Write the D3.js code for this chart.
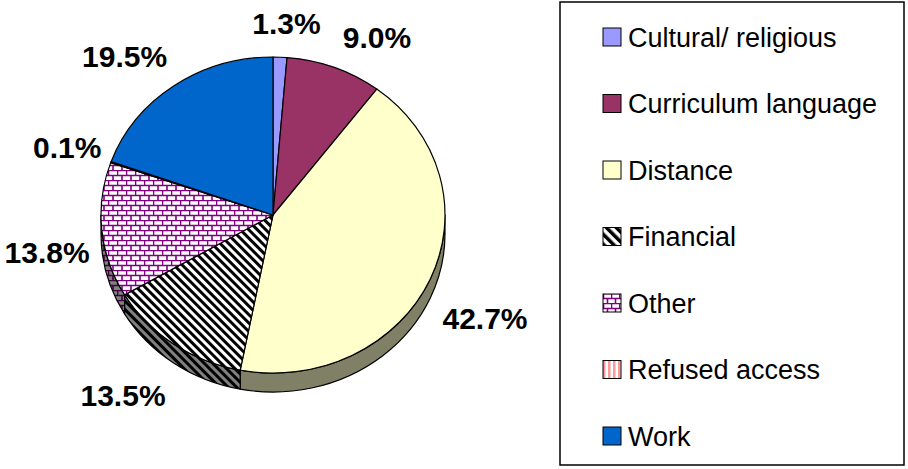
<!DOCTYPE html>
<meta charset="utf-8">
<style>
body { margin: 0; background: #fff; }
text { font-family: "Liberation Sans", Arial, sans-serif; }
.pct { font-weight: bold; font-size: 30px; }
.leg { font-size: 27px; }
</style>
<svg width="908" height="469"></svg>
<script src="https://cdn.jsdelivr.net/npm/d3@7"></script>
<script>

var categories = ["Cultural/ religious", "Curriculum language", "Distance", "Financial", "Other", "Refused access", "Work"];
var shares = [1.3, 9.0, 42.7, 13.5, 13.8, 0.1, 19.5];

// label nudges (layout only) relative to the angle-based spot
var labelNudge = [[4, 8], [22, 9], [2, 2], [-17, -2], [3, -1], [11, -1], [-16, 5]];

var svg = d3.select("svg");
var cx = 273, cy = 215, rx = 172, ry = 158, depth = 19;

/* patterns */
var defs = svg.append("defs");

function stripes(id, bg, fg, w) {
  var p = defs.append("pattern").attr("id", id).attr("patternUnits", "userSpaceOnUse")
    .attr("width", w).attr("height", w).attr("patternTransform", "rotate(-45)");
  p.append("rect").attr("width", w).attr("height", w).attr("fill", bg);
  p.append("rect").attr("width", w / 2).attr("height", w).attr("fill", fg);
}
stripes("fin", "#fff", "#000", 6);
stripes("finDark", "#808080", "#000", 6);
stripes("finLeg", "#fff", "#000", 7);

function brick(id, bg, fg, w, h, sw) {
  var p = defs.append("pattern").attr("id", id).attr("patternUnits", "userSpaceOnUse")
    .attr("width", w).attr("height", h * 2);
  p.append("rect").attr("width", w).attr("height", h * 2).attr("fill", bg);
  p.append("path")
    .attr("d", "M0,0.5H" + w + "M0," + (h + 0.5) + "H" + w +
      "M0.5,0V" + (h + 0.5) + "M" + (w / 2 + 0.5) + "," + (h + 0.5) + "V" + (h * 2))
    .attr("stroke", fg).attr("stroke-width", sw).attr("fill", "none");
}
brick("brick", "#fff", "#800080", 9, 5, 1.6);
brick("brickDark", "#808080", "#400040", 9, 5, 1.6);
brick("brickLeg", "#fff", "#800080", 8, 5, 1.6);

function vstripes(id, bg, fg) {
  var p = defs.append("pattern").attr("id", id).attr("patternUnits", "userSpaceOnUse")
    .attr("width", 5).attr("height", 5);
  p.append("rect").attr("width", 5).attr("height", 5).attr("fill", bg);
  p.append("rect").attr("width", 2.5).attr("height", 5).attr("fill", fg);
}
vstripes("refused", "#fff", "#FF9999");
vstripes("refusedDark", "#808080", "#804c4c");

var topFill = ["#9999FF", "#993366", "#FFFFCC", "url(#fin)", "url(#brick)", "url(#refused)", "#0066CC"];
var sideFill = ["#4c4c80", "#4c1933", "#808066", "url(#finDark)", "url(#brickDark)", "url(#refusedDark)", "#003366"];
var legFill = ["#9999FF", "#993366", "#FFFFCC", "url(#finLeg)", "url(#brickLeg)", "url(#refused)", "#0066CC"];

/* pie angles */
var arcs = d3.pie().sort(null).value(function(d) { return d; })(shares);

function pt(a, dy) {
  return [cx + rx * Math.sin(a), cy - ry * Math.cos(a) + (dy || 0)];
}

function topPath(a0, a1) {
  var p0 = pt(a0), p1 = pt(a1);
  var large = (a1 - a0) > Math.PI ? 1 : 0;
  return "M" + cx + "," + cy + "L" + p0 + "A" + rx + "," + ry + " 0 " + large + " 1 " + p1 + "Z";
}

function sidePath(a0, a1) {
  a0 = Math.max(a0, Math.PI / 2);
  a1 = Math.min(a1, Math.PI * 1.5);
  if (a1 <= a0) return null;
  var p0 = pt(a0), p1 = pt(a1), q0 = pt(a0, depth), q1 = pt(a1, depth);
  return "M" + p0 + "A" + rx + "," + ry + " 0 0 1 " + p1 + "L" + q1 +
    "A" + rx + "," + ry + " 0 0 0 " + q0 + "Z";
}

var g = svg.append("g");

/* side walls first */
g.selectAll(".side")
  .data(arcs.filter(function(d) { return sidePath(d.startAngle, d.endAngle); }))
  .enter().append("path")
    .attr("class", "side")
    .attr("d", function(d) { return sidePath(d.startAngle, d.endAngle); })
    .attr("fill", function(d) { return sideFill[d.index]; })
    .attr("stroke", "#000").attr("stroke-width", 1.2).attr("stroke-linejoin", "round");

/* top faces */
g.selectAll(".slice")
  .data(arcs)
  .enter().append("path")
    .attr("class", "slice")
    .attr("d", function(d) { return topPath(d.startAngle, d.endAngle); })
    .attr("fill", function(d) { return topFill[d.index]; })
    .attr("stroke", "#000").attr("stroke-width", 1.2).attr("stroke-linejoin", "round");

/* percentage labels */
var fmt = d3.format(".1f");
var lx = 230, ly = 200;
g.selectAll(".pct")
  .data(arcs)
  .enter().append("text")
    .attr("class", "pct")
    .attr("text-anchor", "middle")
    .attr("x", function(d) {
      var m = (d.startAngle + d.endAngle) / 2;
      return cx + lx * Math.sin(m) + labelNudge[d.index][0];
    })
    .attr("y", function(d) {
      var m = (d.startAngle + d.endAngle) / 2;
      var c = Math.cos(m);
      return cy - ly * c + (c < 0 ? depth : 0) + 11 + labelNudge[d.index][1];
    })
    .text(function(d) { return fmt(d.data) + "%"; });

/* legend */
var leg = svg.append("g");
leg.append("rect")
  .attr("x", 560).attr("y", 2).attr("width", 344).attr("height", 463)
  .attr("fill", "#fff").attr("stroke", "#000").attr("stroke-width", 1.5);

var rowY = d3.scalePoint().domain(categories).range([37, 436]);

var items = leg.selectAll(".item")
  .data(categories)
  .enter().append("g")
    .attr("class", "item")
    .attr("transform", function(d) { return "translate(603," + rowY(d) + ")"; });

items.append("rect")
  .attr("x", 0).attr("y", -9).attr("width", 18).attr("height", 18)
  .attr("fill", function(d, i) { return legFill[i]; })
  .attr("stroke", "#000").attr("stroke-width", 1);

items.append("text")
  .attr("class", "leg")
  .attr("x", 25).attr("y", 9.5)
  .text(function(d) { return d; });

</script>
